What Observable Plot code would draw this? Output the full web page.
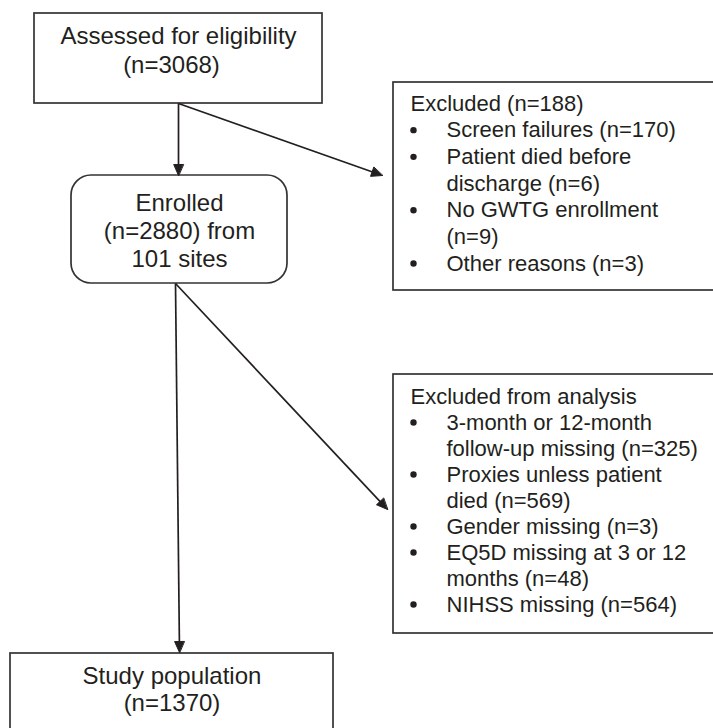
<!DOCTYPE html>
<html><head><meta charset="utf-8">
<script src="https://cdn.jsdelivr.net/npm/d3@7"></script>
<script src="https://cdn.jsdelivr.net/npm/@observablehq/plot@0.6"></script>
<style>body{margin:0;background:#fff}</style>
</head><body><div id="chart"></div>
<script>
// ---- content (text of the flow chart) ----
const assessedLines = ["Assessed for eligibility", "(n=3068)"];
const enrolledLines = ["Enrolled", "(n=2880) from", "101 sites"];
const excluded1Title = "Excluded (n=188)";
const excluded1Items = [
  ["Screen failures (n=170)"],
  ["Patient died before", "discharge (n=6)"],
  ["No GWTG enrollment", "(n=9)"],
  ["Other reasons (n=3)"]
];
const excluded2Title = "Excluded from analysis";
const excluded2Items = [
  ["3-month or 12-month", "follow-up missing (n=325)"],
  ["Proxies unless patient", "died (n=569)"],
  ["Gender missing (n=3)"],
  ["EQ5D missing at 3 or 12", "months (n=48)"],
  ["NIHSS missing (n=564)"]
];
const studyLines = ["Study population", "(n=1370)"];
const flowEdges = [["assessed", "enrolled"], ["assessed", "excl1"], ["enrolled", "excl2"], ["enrolled", "study"]];

// ---- layout ----
const W = 713, H = 728;
const ink = "#231f20";
const layout = {
  assessed: {x1: 34, y1: 13, x2: 322, y2: 103, rx: 0, cx: [178, 171], base: 43, step: 29, size: 24},
  enrolled: {x1: 71, y1: 175, x2: 287, y2: 283, rx: 20, cx: [179, 179, 179], base: 210, step: 28, size: 24},
  excl1: {x1: 393, y1: 82, x2: 730, y2: 290, rx: 0, tx: 410, bx: 413, ix: 446, base: 110, step: 26.67, size: 22},
  excl2: {x1: 393, y1: 374, x2: 730, y2: 633, rx: 0, tx: 410, bx: 413, ix: 446, base: 403, step: 26, size: 22},
  study: {x1: 10, y1: 653, x2: 333, y2: 745, rx: 0, cx: [171.5, 171.5], base: 683, step: 27, size: 24}
};
const ports = {
  "assessed>enrolled": [[178, 103], [178, 175]],
  "assessed>excl1": [[178, 103], [382, 175]],
  "enrolled>excl2": [[175, 283], [387, 509]],
  "enrolled>study": [[175, 283], [179, 652]]
};

// boxes
const boxes = Object.entries(layout).map(([id, b]) => ({id, ...b}));

// centered text lines
const centered = [];
[["assessed", assessedLines], ["enrolled", enrolledLines], ["study", studyLines]].forEach(([id, lines]) => {
  const b = layout[id];
  lines.forEach((t, i) => centered.push({x: b.cx[i], y: b.base + i * b.step, text: t, size: b.size}));
});

// left-aligned lists
const leftText = [], bullets = [];
[["excl1", excluded1Title, excluded1Items], ["excl2", excluded2Title, excluded2Items]].forEach(([id, title, items]) => {
  const b = layout[id];
  let k = 0;
  leftText.push({x: b.tx, y: b.base, text: title, size: b.size});
  items.forEach(item => {
    item.forEach((t, j) => {
      k++;
      const y = b.base + k * b.step;
      leftText.push({x: b.ix, y, text: t, size: b.size});
      if (j === 0) bullets.push({x: b.bx, y: y - 7});
    });
  });
});

// arrows
const headLen = 11, headHalf = 4.8;
const links = [], heads = [];
flowEdges.forEach(([a, b], i) => {
  const [[x1, y1], [x2, y2]] = ports[a + ">" + b];
  const dx = x2 - x1, dy = y2 - y1, L = Math.hypot(dx, dy);
  const ux = dx / L, uy = dy / L;
  const bx = x2 - ux * headLen, by = y2 - uy * headLen;
  links.push({x1, y1, x2: bx + ux * 2, y2: by + uy * 2});
  heads.push({id: i, x: x2, y: y2});
  heads.push({id: i, x: bx - uy * headHalf, y: by + ux * headHalf});
  heads.push({id: i, x: bx + uy * headHalf, y: by - ux * headHalf});
});

const font = "'Liberation Sans', Arial, Helvetica, sans-serif";
const chart = Plot.plot({
  width: W, height: H, margin: 0,
  x: {domain: [0, W], range: [0, W], axis: null},
  y: {domain: [0, H], range: [0, H], axis: null},
  style: {background: "#fff", fontFamily: font},
  marks: [
    Plot.rect(boxes.filter(d => !d.rx), {x1: "x1", x2: "x2", y1: "y1", y2: "y2", fill: "none", stroke: "#333", strokeWidth: 1.7}),
    Plot.rect(boxes.filter(d => d.rx), {x1: "x1", x2: "x2", y1: "y1", y2: "y2", rx: 20, fill: "none", stroke: "#333", strokeWidth: 1.7}),
    Plot.link(links, {x1: "x1", y1: "y1", x2: "x2", y2: "y2", stroke: ink, strokeWidth: 1.7}),
    Plot.line(heads, {x: "x", y: "y", z: "id", fill: ink, stroke: ink, strokeWidth: 1, curve: "linear-closed"}),
    Plot.dot(bullets, {x: "x", y: "y", r: 3.2, fill: ink, stroke: null}),
    Plot.text(centered, {x: "x", y: "y", text: "text", fontSize: "size", textAnchor: "middle", lineAnchor: "bottom", fill: ink, fontFamily: font}),
    Plot.text(leftText, {x: "x", y: "y", text: "text", fontSize: "size", textAnchor: "start", lineAnchor: "bottom", fill: ink, fontFamily: font})
  ]
});
document.getElementById("chart").appendChild(chart);
</script>
</body></html>
